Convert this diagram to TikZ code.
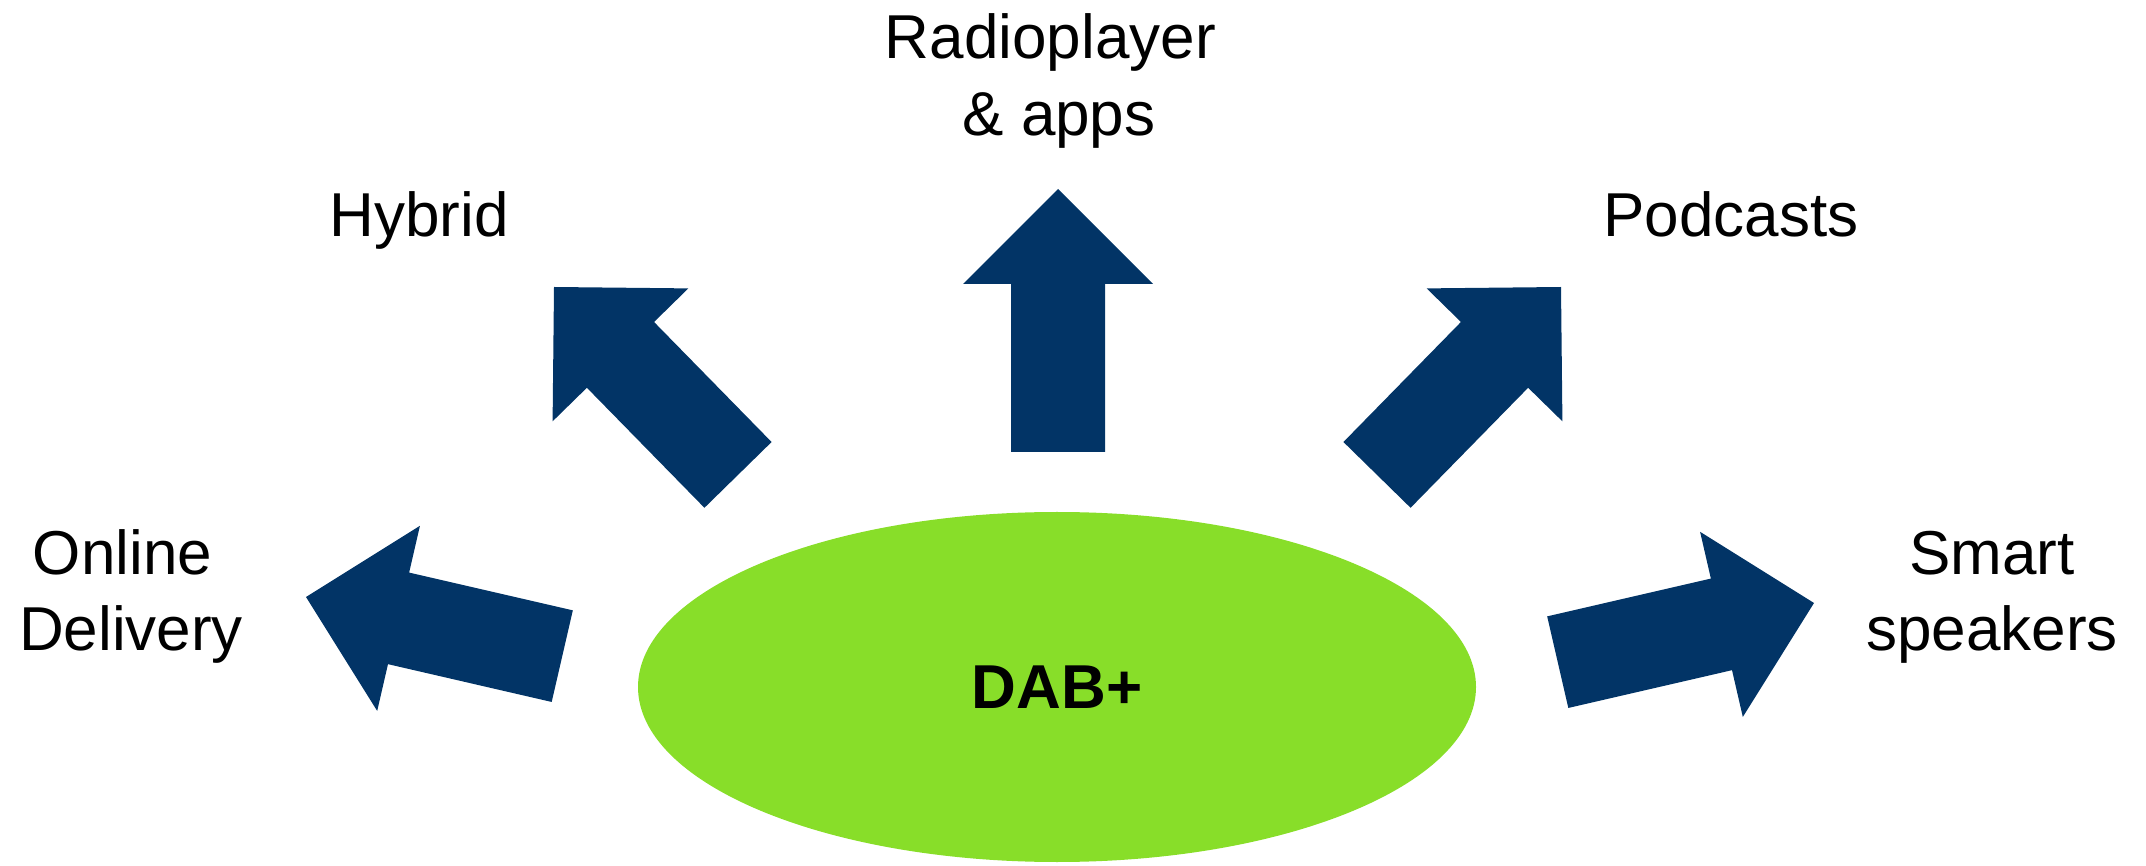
\documentclass[tikz,border=0pt]{standalone}
\usepackage{fontspec}
\setmainfont{Liberation Sans}
\usetikzlibrary{shapes.geometric}
\definecolor{navyblue}{RGB}{2,52,102}
\definecolor{dabgreen}{RGB}{136,222,41}
\begin{document}
\begin{tikzpicture}[x=1pt,y=1pt,
  lbl/.style={font=\fontsize{62}{77}\selectfont, inner sep=0pt, align=center, text=black, anchor=base},
  bigarrow/.pic={\fill[navyblue] (0,0) -- (-95,95) -- (-95,47) -- (-263,47) -- (-263,-47) -- (-95,-47) -- (-95,-95) -- cycle;}]
\useasboundingbox (0,0) rectangle (2146,865);
% centre ellipse
\node[ellipse, fill=dabgreen, minimum width=838, minimum height=350, inner sep=0pt,
      font=\fontsize{62}{74}\bfseries] (dab) at (1057,178) {DAB+};
% arrows
\pic[rotate=90]    at (1058,676) {bigarrow};
\pic[rotate=134.4] at (554,578)  {bigarrow};
\pic[rotate=45.6]  at (1561,578) {bigarrow};
\pic[rotate=167]   at (306,268)  {bigarrow};
\pic[rotate=13]    at (1814,262) {bigarrow};
% labels (base anchor = baseline of last line)
\node[lbl] (radio)  at (1059,729.5) {Radioplayer\hspace*{0.278em}\\\& apps};
\node[lbl] (hybrid) at (419,628.3)  {Hybrid};
\node[lbl] (pod)    at (1731,628.3) {Podcasts};
\node[lbl] (online) at (131,214)    {Online\hspace*{0.278em}\\Delivery};
\node[lbl] (smart)  at (1992,214)   {Smart\\speakers};
\end{tikzpicture}
\end{document}
